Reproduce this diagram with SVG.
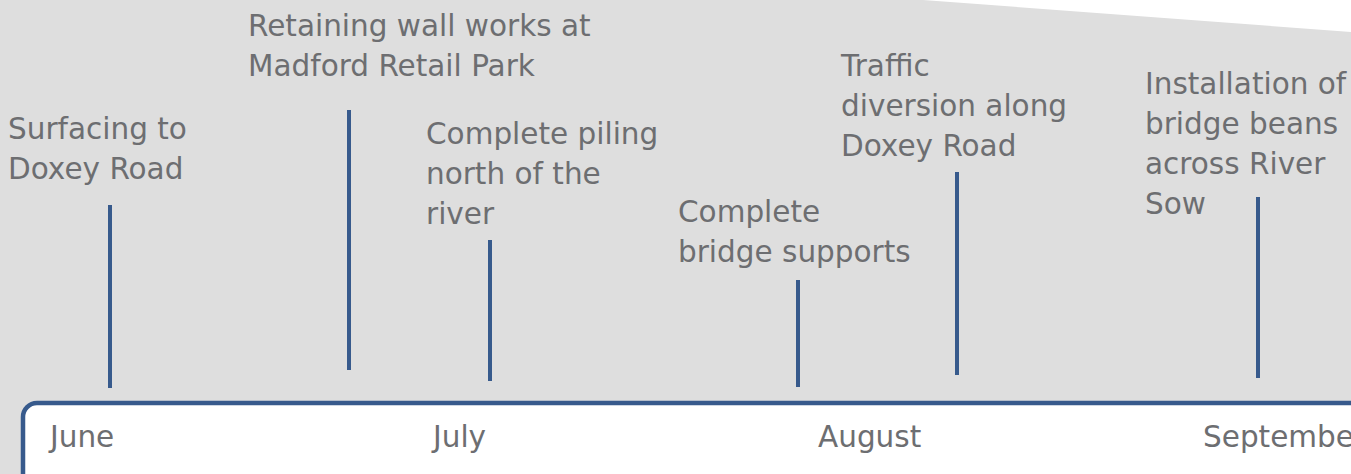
<svg xmlns="http://www.w3.org/2000/svg" width="1351" height="474" viewBox="0 0 1351 474">
<style>
.bg{fill:#dedede}
.t{font-family:"DejaVu Sans",sans-serif;font-size:29.5px;fill:#6d6e71}
.m{stroke:#375a8c;stroke-width:4;fill:none}
</style>
<rect class="bg" x="0" y="0" width="1351" height="474"/>
<polygon points="923,0 1351,0 1351,32" fill="#ffffff"/>
<g id="timeline">
<rect x="23" y="403" width="1360" height="120" rx="14" ry="14" fill="#ffffff" stroke="#375a8c" stroke-width="4.5"/>
<text class="t" x="50" y="447">June</text>
<text class="t" x="433" y="447">July</text>
<text class="t" x="818" y="447">August</text>
<text class="t" x="1203" y="447">Septembe</text>
</g>
<g id="connectors">
<line class="m" x1="110" y1="205" x2="110" y2="388"/>
<line class="m" x1="349" y1="110" x2="349" y2="370"/>
<line class="m" x1="490" y1="240" x2="490" y2="381"/>
<line class="m" x1="798" y1="280" x2="798" y2="387"/>
<line class="m" x1="957" y1="172" x2="957" y2="375"/>
<line class="m" x1="1258" y1="197" x2="1258" y2="378"/>
</g>
<g id="n1"><text class="t" x="8" y="139">Surfacing to</text><text class="t" x="8" y="179">Doxey Road</text></g>
<g id="n2"><text class="t" x="248" y="36">Retaining wall works at</text><text class="t" x="248" y="76">Madford Retail Park</text></g>
<g id="n3"><text class="t" x="426" y="144">Complete piling</text><text class="t" x="426" y="184">north of the</text><text class="t" x="426" y="224">river</text></g>
<g id="n4"><text class="t" x="678" y="222">Complete</text><text class="t" x="678" y="262">bridge supports</text></g>
<g id="n5"><text class="t" x="841" y="76">Traffic</text><text class="t" x="841" y="116">diversion along</text><text class="t" x="841" y="156">Doxey Road</text></g>
<g id="n6"><text class="t" x="1145" y="94">Installation of</text><text class="t" x="1145" y="134">bridge beans</text><text class="t" x="1145" y="174">across River</text><text class="t" x="1145" y="214">Sow</text></g>
</svg>
